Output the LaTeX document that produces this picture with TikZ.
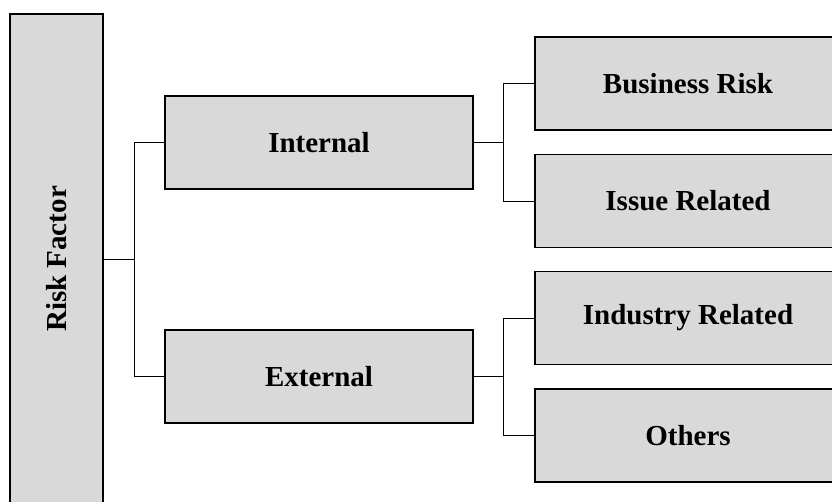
\documentclass[tikz,border=0pt]{standalone}
\usepackage{fontspec}
\setmainfont{Liberation Serif}
\tikzset{
    riskbox/.style={shape=rectangle, draw=black, line width=1.3pt, fill=black!15,
        minimum width=306pt, minimum height=93pt, inner sep=0pt,
        font=\fontsize{29}{34}\selectfont\bfseries},
    link/.style={draw=black, line width=0.9pt}
}
\begin{document}
\begin{tikzpicture}[x=1pt, y=-1pt]

                \useasboundingbox (0,0) rectangle (832,501);

                \node[riskbox, minimum width=93pt, minimum height=490pt] (risk) at (56.5,259) {};
                \node[rotate=90, font=\fontsize{29}{34}\selectfont\bfseries] (risklabel) at (risk.center) {Risk Factor};

                \node[riskbox, minimum width=308pt] (internal) at (319,142.5) {Internal};
                \node[riskbox, minimum width=308pt] (external) at (319,376.5) {External};

                \node[riskbox] (business) at (688,83.5) {Business Risk};
                \node[riskbox] (issue) at (688,201) {Issue Related};
                \node[riskbox] (industry) at (688,318) {Industry Related};
                \node[riskbox] (others) at (688,435.5) {Others};

                \coordinate (j1) at (134.5,259);
                \coordinate (j2) at (503.5,142.5);
                \coordinate (j3) at (503.5,376.5);

                \draw[link] (risk.east) -- (j1);
                \draw[link] (j1) |- (internal.west);
                \draw[link] (j1) |- (external.west);

                \draw[link] (internal.east) -- (j2);
                \draw[link] (j2) |- (business.west);
                \draw[link] (j2) |- (issue.west);

                \draw[link] (external.east) -- (j3);
                \draw[link] (j3) |- (industry.west);
                \draw[link] (j3) |- (others.west);

            \end{tikzpicture}
\end{document}
